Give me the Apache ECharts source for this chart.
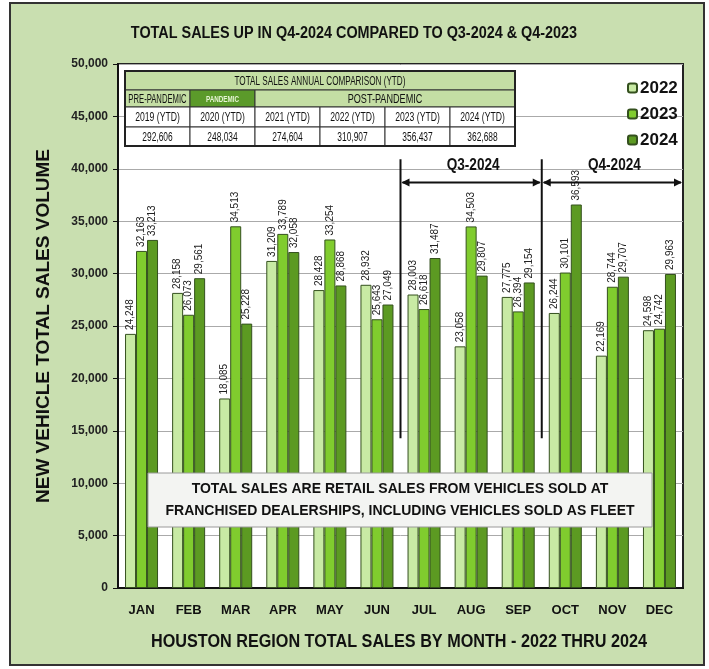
<!DOCTYPE html>
<html>
<head>
<meta charset="utf-8">
<script src="https://cdn.jsdelivr.net/npm/echarts@6/dist/echarts.min.js"></script>
<style>
html, body { margin: 0; padding: 0; background: #fff; }
#panel { position: absolute; left: 9px; top: 2px; width: 692px; height: 660px; background: #c9dfb0; border: 2px solid #333; }
#chart { position: absolute; left: 0; top: 0; width: 709px; height: 669px; }
</style>
</head>
<body>
<div id="panel"></div>
<div id="chart"></div>
<script>
// data
const months = ["JAN", "FEB", "MAR", "APR", "MAY", "JUN", "JUL", "AUG", "SEP", "OCT", "NOV", "DEC"];
const years = ["2022", "2023", "2024"];
const sales2022 = [24248, 28158, 18085, 31209, 28428, 28932, 28003, 23058, 27775, 26244, 22169, 24598];
const sales2023 = [32163, 26073, 34513, 33789, 33254, 25643, 26618, 34503, 26394, 30101, 28744, 24742];
const sales2024 = [33213, 29561, 25228, 32058, 28868, 27049, 31487, 29807, 29154, 36593, 29707, 29963];
const ytdYears = ["2019 (YTD)", "2020 (YTD)", "2021 (YTD)", "2022 (YTD)", "2023 (YTD)", "2024 (YTD)"];
const ytdTotals = ["292,606", "248,034", "274,604", "310,907", "356,437", "362,688"];
const yMin = 0, yMax = 50000, yStep = 5000;

const FONT = '"Liberation Sans", Arial, sans-serif';
const barColors = ["#c8eaa4", "#80cc2e", "#5c9a22"];
const lightGreen = "#c4dea4";

function makeSeries(name, data, color) {
  return {
    name: name,
    type: "bar",
    data: data,
    barWidth: 11,
    barGap: "0%",
    itemStyle: { color: color, borderColor: "#34501e", borderWidth: 1 },
    label: {
      show: true,
      position: "top",
      rotate: 90,
      align: "left",
      verticalAlign: "middle",
      distance: 4,
      fontFamily: FONT,
      fontSize: 10,
      color: "#222",
      formatter: (p) => p.value.toLocaleString("en-US"),
    },
  };
}

// 压窄的文字（没有窄体字体，用 scaleX 代替）
function narrowText(x, y, text, font, sx, fill, z) {
  return {
    type: "text",
    x: x,
    y: y,
    scaleX: sx,
    style: { text: text, align: "center", verticalAlign: "middle", font: font, fill: fill || "#111" },
    z: z || 11,
  };
}

// 年度对比表
function tableElements() {
  const x0 = 125, y0 = 71, colW = 65;
  const rowH = [19, 17, 20, 19];
  const els = [];
  const cell = (x, y, w, h, fill, text, font, sx, color) => {
    els.push({
      type: "rect",
      shape: { x: x, y: y, width: w, height: h },
      style: { fill: fill, stroke: "#333", lineWidth: 1 },
      z: 10,
    });
    els.push(narrowText(x + w / 2, y + h / 2 + 1, text, font, sx, color || "#111", 11));
  };
  let y = y0;
  cell(x0, y, colW * 6, rowH[0], lightGreen, "TOTAL SALES ANNUAL COMPARISON (YTD)", "12px " + FONT, 0.68);
  y += rowH[0];
  cell(x0, y, colW, rowH[1], lightGreen, "PRE-PANDEMIC", "12px " + FONT, 0.64);
  cell(x0 + colW, y, colW, rowH[1], "#5b9a2a", "PANDEMIC", "bold 9px " + FONT, 0.7, "#e6f4d4");
  cell(x0 + colW * 2, y, colW * 4, rowH[1], lightGreen, "POST-PANDEMIC", "13px " + FONT, 0.7);
  y += rowH[1];
  ytdYears.forEach((t, i) => cell(x0 + colW * i, y, colW, rowH[2], "#fff", t, "12px " + FONT, 0.72));
  y += rowH[2];
  ytdTotals.forEach((t, i) => cell(x0 + colW * i, y, colW, rowH[3], "#fff", t, "12px " + FONT, 0.7));
  y += rowH[3];
  els.push({
    type: "rect",
    shape: { x: x0, y: y0, width: colW * 6, height: y - y0 },
    style: { fill: "none", stroke: "#222", lineWidth: 2 },
    z: 12,
  });
  return els;
}

const chart = echarts.init(document.getElementById("chart"));

const option = {
  backgroundColor: "transparent",
  animation: false,
  legend: {
    orient: "vertical",
    left: 622,
    top: 74,
    itemWidth: 9,
    itemHeight: 9,
    itemGap: 8,
    data: years,
    textStyle: { fontFamily: FONT, fontWeight: "bold", fontSize: 17, lineHeight: 18, color: "#111", padding: [0, 0, 0, -2] },
  },
  grid: {
    left: 118,
    right: 26,
    top: 64,
    bottom: 81,
    show: true,
    backgroundColor: "#fff",
    borderColor: "#222",
    borderWidth: 2,
  },
  xAxis: {
    type: "category",
    data: months,
    axisLine: { lineStyle: { color: "#111", width: 2 } },
    axisTick: { show: false },
    axisLabel: { fontFamily: FONT, fontWeight: "bold", fontSize: 13, color: "#111", margin: 16 },
  },
  yAxis: {
    type: "value",
    min: yMin,
    max: yMax,
    interval: yStep,
    name: "NEW VEHICLE TOTAL SALES VOLUME",
    nameLocation: "middle",
    nameGap: 65,
    nameTextStyle: { fontFamily: FONT, fontWeight: "bold", fontSize: 19, color: "#111" },
    axisLine: { show: true, lineStyle: { color: "#111", width: 2 } },
    axisTick: { show: true, inside: false, length: 5, lineStyle: { color: "#111" } },
    axisLabel: {
      fontFamily: FONT,
      fontWeight: "bold",
      fontSize: 12,
      color: "#222",
      margin: 10,
      formatter: (v) => v.toLocaleString("en-US"),
    },
    splitLine: { lineStyle: { color: "#aaa", width: 1 } },
  },
  series: [
    makeSeries(years[0], sales2022, barColors[0]),
    makeSeries(years[1], sales2023, barColors[1]),
    makeSeries(years[2], sales2024, barColors[2]),
  ],
};
chart.setOption(option);

// 季度标注（位置由坐标轴换算）
function quarterElements() {
  const els = [];
  const px = (i) => chart.convertToPixel({ xAxisIndex: 0 }, i);
  const boundary = (i) => (px(i - 1) + px(i)) / 2;
  const py = (v) => chart.convertToPixel({ yAxisIndex: 0 }, v);
  const q3 = boundary(6), q4 = boundary(9);
  const qEnd = px(11) + (px(11) - px(10)) / 2;
  const lineTop = py(40900), lineBot = py(14300), arrowY = py(38700), textY = py(40300);
  [q3, q4].forEach((x) => {
    els.push({ type: "line", shape: { x1: x, y1: lineTop, x2: x, y2: lineBot }, style: { stroke: "#111", lineWidth: 2 }, z: 20 });
  });
  const arrow = (x1, x2, label) => {
    els.push({ type: "line", shape: { x1: x1 + 2, y1: arrowY, x2: x2 - 2, y2: arrowY }, style: { stroke: "#111", lineWidth: 2 }, z: 20 });
    els.push({ type: "polygon", shape: { points: [[x1 + 1, arrowY], [x1 + 9, arrowY - 4], [x1 + 9, arrowY + 4]] }, style: { fill: "#111" }, z: 20 });
    els.push({ type: "polygon", shape: { points: [[x2 - 1, arrowY], [x2 - 9, arrowY - 4], [x2 - 9, arrowY + 4]] }, style: { fill: "#111" }, z: 20 });
    els.push(narrowText((x1 + x2) / 2 + 2, textY, label, "bold 16px " + FONT, 0.85, "#111", 20));
  };
  arrow(q3, q4, "Q3-2024");
  arrow(q4, qEnd, "Q4-2024");
  return els;
}

const titleElements = [
  narrowText(354, 34, "TOTAL SALES UP IN Q4-2024 COMPARED TO Q3-2024 & Q4-2023", "bold 16px " + FONT, 0.9, "#111", 5),
  narrowText(399, 642, "HOUSTON REGION TOTAL SALES BY MONTH - 2022 THRU 2024", "bold 18px " + FONT, 0.9, "#111", 5),
];

const noteElements = [
  {
    type: "rect",
    shape: { x: 148, y: 473, width: 504, height: 54 },
    style: { fill: "#f3f4f2", stroke: "#9a9a9a", lineWidth: 1 },
    z: 30,
  },
  {
    type: "text",
    x: 400,
    y: 500,
    style: {
      text: "TOTAL SALES ARE RETAIL SALES FROM VEHICLES SOLD AT\nFRANCHISED DEALERSHIPS, INCLUDING VEHICLES SOLD AS FLEET",
      align: "center",
      verticalAlign: "middle",
      font: "bold 14px " + FONT,
      lineHeight: 22,
      fill: "#111",
    },
    z: 31,
  },
];

chart.setOption({ graphic: { elements: titleElements.concat(tableElements(), quarterElements(), noteElements) } });
</script>
</body>
</html>
